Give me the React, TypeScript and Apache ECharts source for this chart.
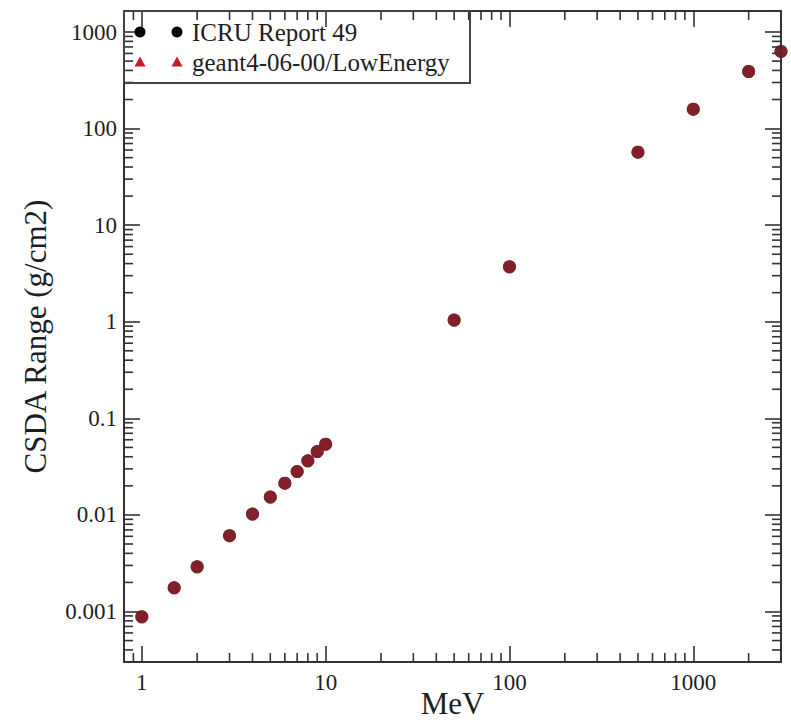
import React, { useEffect, useRef } from "react";
import * as echarts from "echarts";

// Proton energies (MeV) and CSDA ranges (g/cm2)
const energyMeV = [1, 1.5, 2, 3, 4, 5, 6, 7, 8, 9, 10, 50, 100, 500, 1000, 2000, 3000];
const icruRange = [0.00088, 0.00176, 0.0029, 0.0061, 0.0102, 0.0153, 0.0213, 0.0281, 0.0363, 0.0453, 0.054, 1.04, 3.7, 57, 159, 390, 630];
const geant4Range = [0.00088, 0.00176, 0.0029, 0.0061, 0.0102, 0.0153, 0.0213, 0.0281, 0.0363, 0.0453, 0.054, 1.04, 3.7, 57, 159, 390, 630];

const seriesNames = ["ICRU Report 49", "geant4-06-00/LowEnergy"];
const xTickLabels = ["1", "10", "100", "1000"];
const yTickLabels = ["0.001", "0.01", "0.1", "1", "10", "100", "1000"];
const xRange = [0.8, 3000];
const yRange = [0.0003, 1650];

const FONT = "Liberation Serif";
const AXIS_COLOR = "#333";
const TEXT_COLOR = "#1e1e1e";
const MAJOR = 16;
const MINOR = 9;
const TICK_W = 1.6;

const GRID = { left: 124, top: 11, right: 10, bottom: 63 };

// 2..9 x 10^k positions inside an axis range (log-axis minor ticks)
function minorTicks(range: number[]): number[] {
  const out: number[] = [];
  const k0 = Math.floor(Math.log10(range[0]));
  const k1 = Math.ceil(Math.log10(range[1]));
  for (let k = k0; k <= k1; k++) {
    for (let m = 2; m <= 9; m++) {
      const v = Number((m * Math.pow(10, k)).toPrecision(3));
      if (v > range[0] && v < range[1]) out.push(v);
    }
  }
  return out;
}

function decadeLabel(labels: string[]) {
  return (v: number) => {
    const s = String(Number(v.toPrecision(3)));
    return labels.includes(s) ? s : "";
  };
}

export default function App() {
  const ref = useRef<HTMLDivElement>(null);

  useEffect(() => {
    if (!ref.current) return;
    const chart = echarts.init(ref.current, null, { renderer: "svg" });
    const W = 791;
    const H = 725;
    const x0 = GRID.left;
    const x1 = W - GRID.right;
    const y0 = GRID.top;
    const y1 = H - GRID.bottom;

    const tickStyle = { color: AXIS_COLOR, width: TICK_W };
    const lineStyle = { color: AXIS_COLOR, width: 2 };
    const labelStyle = { fontFamily: FONT, fontSize: 23, color: TEXT_COLOR };

    // Legend box in the top-left corner of the frame
    const row1 = 32;
    const row2 = 62;
    const mk1 = 140;
    const mk2 = 177;
    const tri = (cx: number, cy: number) => ({
      type: "polygon",
      shape: { points: [[cx - 5.5, cy + 4.5], [cx + 5.5, cy + 4.5], [cx, cy - 5.5]] },
      style: { fill: "#c41a30" },
      z: 10,
    });
    const legendText = (text: string, y: number) => ({
      type: "text",
      x: 192,
      y,
      style: {
        text,
        fontFamily: FONT,
        fontSize: 25,
        fill: TEXT_COLOR,
        verticalAlign: "middle",
        align: "left",
      },
      z: 10,
    });
    const legendGraphics: any[] = [
      {
        type: "rect",
        shape: { x: x0, y: y0, width: 346, height: 72 },
        style: { fill: "none", stroke: "#444", lineWidth: 2 },
        z: 10,
      },
      { type: "circle", shape: { cx: mk1, cy: row1, r: 5.5 }, style: { fill: "#000" }, z: 10 },
      { type: "circle", shape: { cx: mk2, cy: row1, r: 5.5 }, style: { fill: "#000" }, z: 10 },
      tri(mk1, row2),
      tri(mk2, row2),
      legendText(seriesNames[0], row1),
      legendText(seriesNames[1], row2),
    ];

    const logAxis = (range: number[], position: string) => ({
      type: "log",
      min: range[0],
      max: range[1],
      position,
      axisLine: { show: true, lineStyle },
      axisTick: { show: true, inside: true, length: MAJOR, lineStyle: tickStyle },
      axisLabel: { show: false },
      splitLine: { show: false },
    });

    chart.setOption({
      animation: false,
      backgroundColor: "#ffffff",
      grid: { ...GRID, containLabel: false, outerBoundsMode: "none" },
      xAxis: [
        {
          ...logAxis(xRange, "bottom"),
          name: "MeV",
          nameLocation: "middle",
          nameGap: 26,
          nameMoveOverlap: false,
          nameTextStyle: { fontFamily: FONT, fontSize: 31, color: TEXT_COLOR },
          axisLabel: { ...labelStyle, margin: 9, formatter: decadeLabel(xTickLabels) },
        },
        logAxis(xRange, "top"),
      ],
      yAxis: [
        {
          ...logAxis(yRange, "left"),
          name: "CSDA Range (g/cm2)",
          nameLocation: "middle",
          nameGap: 73,
          nameMoveOverlap: false,
          nameTextStyle: { fontFamily: FONT, fontSize: 31, color: TEXT_COLOR },
          axisLabel: { ...labelStyle, margin: 7, formatter: decadeLabel(yTickLabels) },
        },
        logAxis(yRange, "right"),
      ],
      series: [
        {
          name: seriesNames[0],
          type: "scatter",
          xAxisIndex: 0,
          yAxisIndex: 0,
          symbol: "circle",
          symbolSize: 13,
          itemStyle: { color: "#000000" },
          data: energyMeV.map((e, i) => [e, icruRange[i]]),
          z: 3,
        },
        {
          name: seriesNames[1],
          type: "scatter",
          xAxisIndex: 0,
          yAxisIndex: 0,
          symbol: "circle",
          symbolSize: 13,
          itemStyle: { color: "rgba(160, 24, 40, 0.9)" },
          data: energyMeV.map((e, i) => [e, geant4Range[i]]),
          z: 4,
        },
      ],
    });

    // Minor ticks at 2..9 x 10^k on all four frame edges, positioned through the axes
    const tickRect = (x: number, y: number, w: number, h: number) => ({
      type: "rect",
      shape: { x, y, width: w, height: h },
      style: { fill: AXIS_COLOR },
      silent: true,
      z: 5,
    });
    const minorGraphics: any[] = [];
    for (const v of minorTicks(xRange)) {
      const px = chart.convertToPixel({ xAxisIndex: 0 }, v) as number;
      if (!isFinite(px)) continue;
      minorGraphics.push(tickRect(px - TICK_W / 2, y1 - MINOR, TICK_W, MINOR));
      minorGraphics.push(tickRect(px - TICK_W / 2, y0, TICK_W, MINOR));
    }
    for (const v of minorTicks(yRange)) {
      const py = chart.convertToPixel({ yAxisIndex: 0 }, v) as number;
      if (!isFinite(py)) continue;
      minorGraphics.push(tickRect(x0, py - TICK_W / 2, MINOR, TICK_W));
      minorGraphics.push(tickRect(x1 - MINOR, py - TICK_W / 2, MINOR, TICK_W));
    }
    chart.setOption({ graphic: [...legendGraphics, ...minorGraphics] });

    return () => chart.dispose();
  }, []);

  return (
    <div
      ref={ref}
      style={{ position: "fixed", left: 0, top: 0, width: 791, height: 725, background: "#fff" }}
    />
  );
}
